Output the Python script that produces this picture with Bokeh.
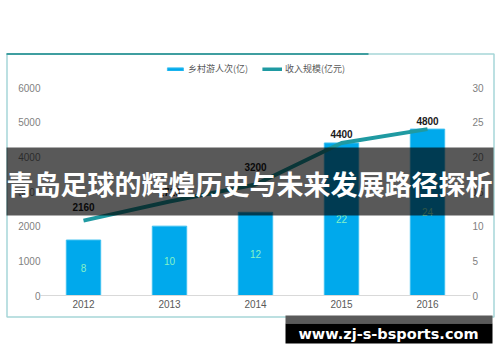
from bokeh.plotting import figure
from bokeh.models import (ColumnDataSource, FactorRange, Range1d, LinearAxis,
                          FixedTicker, Legend, LegendItem)
from bokeh.core.properties import value
from bokeh.embed import file_html
from bokeh.resources import INLINE

# ---- data ----
years = ["2012", "2013", "2014", "2015", "2016"]
visitors = [8, 10, 12, 22, 24]            # 乡村游人次(亿) - right axis
revenue = [2160, 2710, 3200, 4400, 4800]  # 收入规模(亿元) - left axis
revenue_labels = ["2160", "2710", "3200", "4400", "4800"]
left_ticks = [0, 1000, 2000, 3000, 4000, 5000, 6000]
right_ticks = [0, 5, 10, 15, 20, 25, 30]
legend_names = ["乡村游人次(亿)", "收入规模(亿元)"]
title_text = "青岛足球的辉煌历史与未来发展路径探析"
watermark_text = "www.zj-s-bsports.com"

# label placement style (pixels above each point, as in the source chart)
label_lift = [-10, -6, -14, -5, -4]

BAR = "#00a9ec"
LINE = "#1f9aa2"
NUM_FONT = "Liberation Sans"
CJK_FONT = "Noto Sans CJK SC"

p = figure(width=500, height=362, output_backend="svg", toolbar_location=None,
           x_range=FactorRange(*years), y_range=Range1d(0, 6981),
           min_border_left=40, min_border_right=30, min_border_top=53,
           min_border_bottom=67, y_axis_location=None)
p.x_range.range_padding = 0
p.extra_y_ranges = {"right": Range1d(0, 34.905)}
p.outline_line_color = None
p.background_fill_color = "white"
p.border_fill_color = "white"
p.xgrid.grid_line_color = None
p.ygrid.grid_line_color = None

# axes
la = LinearAxis(ticker=FixedTicker(ticks=left_ticks))
ra = LinearAxis(ticker=FixedTicker(ticks=right_ticks), y_range_name="right")
for ax, st in ((la, 0), (ra, 2)):
    ax.axis_line_color = None
    ax.major_tick_line_color = None
    ax.minor_tick_line_color = None
    ax.major_tick_out = 0
    ax.major_tick_in = 0
    ax.major_label_text_font = NUM_FONT
    ax.major_label_text_font_size = "10px"
    ax.major_label_text_color = "#7f7f7f"
    ax.major_label_standoff = st
p.add_layout(la, "left")
p.add_layout(ra, "right")

xa = p.xaxis[0]
xa.axis_line_color = "#d9d9d9"
xa.major_tick_line_color = None
xa.minor_tick_line_color = None
xa.major_tick_out = 0
xa.major_tick_in = 0
xa.major_label_text_font = NUM_FONT
xa.major_label_text_font_size = "10px"
xa.major_label_text_color = "#595959"
xa.major_label_standoff = 4

src = ColumnDataSource(dict(
    x=years, v=visitors, vmid=[v / 2 for v in visitors], vlab=[str(v) for v in visitors],
    r=revenue, rlab=revenue_labels, lift=label_lift))

bars = p.vbar(x="x", top="v", width=0.4, y_range_name="right", source=src,
              fill_color=BAR, line_color="#3fc0f0", line_width=1)
line = p.line(x="x", y="r", source=src, line_color=LINE, line_width=4)

p.text(x="x", y="vmid", text="vlab", source=src, y_range_name="right",
       text_align="center", text_baseline="middle", text_color="#84f2c8",
       text_font=value(NUM_FONT), text_font_size="10px")
p.text(x="x", y="r", text="rlab", source=src, text_align="center",
       text_baseline="bottom", y_offset="lift", text_color="#1a1a1a",
       text_font=value(NUM_FONT), text_font_size="10px", text_font_style="bold")

legend = Legend(items=[LegendItem(label=legend_names[0], renderers=[bars]),
                       LegendItem(label=legend_names[1], renderers=[line])],
                location="top_center", orientation="horizontal")
legend.glyph_width = 20
legend.glyph_height = 4
legend.label_height = 12
legend.label_standoff = 3
legend.spacing = 14
legend.margin = 9
legend.padding = 0
legend.label_text_font = CJK_FONT
legend.label_text_font_size = "9px"
legend.label_text_color = "#595959"
legend.background_fill_alpha = 0
legend.border_line_color = None
p.add_layout(legend, "center")

# ---- overlay figure (page decorations: frame box, title banner, watermark) ----
ov = figure(width=500, height=362, output_backend="svg", toolbar_location=None,
            x_range=Range1d(0, 500), y_range=Range1d(362, 0),
            min_border=0, min_border_left=0, min_border_right=0,
            min_border_top=0, min_border_bottom=0,
            x_axis_location=None, y_axis_location=None,
            styles={"position": "absolute", "left": "0px", "top": "0px"})
ov.grid.visible = False
ov.outline_line_color = None
ov.background_fill_alpha = 0
ov.border_fill_alpha = 0

ov.quad(left=[6.5], right=[493.5], top=[53.5], bottom=[316.5], fill_alpha=0,
        line_color="#a6d6d8", line_width=1.5)
ov.quad(left=[6], right=[368], top=[52.5], bottom=[54.5], fill_color="#3f9ea0",
        line_color=None)
ov.quad(left=[6], right=[493], top=[147], bottom=[215], fill_color="black",
        fill_alpha=0.65, line_color=None)
ov.text(x=[249], y=[183], text=[title_text], text_align="center", text_baseline="middle",
        text_color="white", text_font=value(CJK_FONT), text_font_size="27px",
        text_font_style="bold")
ov.quad(left=[285], right=[492], top=[315], bottom=[323], fill_color="#5a5a5a",
        line_color=None)
ov.quad(left=[285], right=[492], top=[323], bottom=[343], fill_color="black",
        line_color=None)
ov.text(x=[388], y=[333], text=[watermark_text], text_align="center",
        text_baseline="middle", text_color="white", text_font=value("DejaVu Sans"),
        text_font_size="14.5px", text_font_style="bold")

open("out.html", "w").write(file_html([p, ov], INLINE))
